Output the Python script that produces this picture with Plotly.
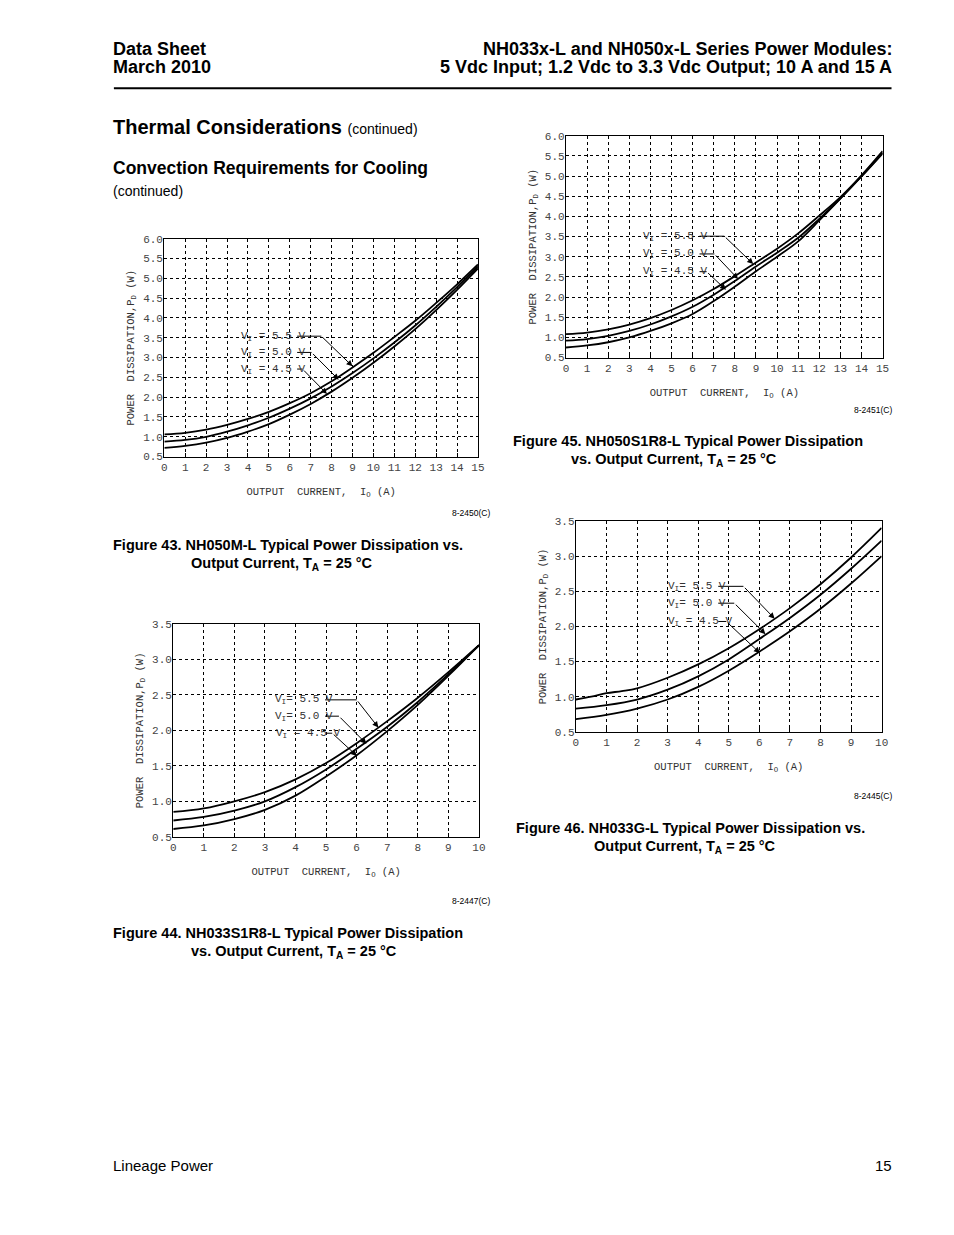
import plotly.graph_objects as go

# page size and the default 8 px body margin of the browser
PAGE_W, PAGE_H, BODY_M = 954, 1235, 8
W, H = PAGE_W - 2 * BODY_M, PAGE_H - 2 * BODY_M

# ---------------- data ----------------
# Figure 43. NH050M-L  (x: output current 0..15 A)
f43_x = list(range(16))
f43_v55 = [1.06, 1.10, 1.18, 1.30, 1.45, 1.63, 1.85, 2.10, 2.40, 2.75, 3.12, 3.52, 3.93, 4.38, 4.85, 5.35]
f43_v50 = [0.88, 0.92, 1.00, 1.13, 1.29, 1.48, 1.71, 1.97, 2.27, 2.61, 2.98, 3.38, 3.81, 4.28, 4.78, 5.30]
f43_v45 = [0.72, 0.77, 0.85, 0.97, 1.13, 1.32, 1.56, 1.83, 2.14, 2.49, 2.87, 3.28, 3.72, 4.20, 4.71, 5.25]

# Figure 45. NH050S1R8-L (x: 0..15 A)
f45_x = list(range(16))
f45_v55 = [1.08, 1.12, 1.20, 1.32, 1.48, 1.68, 1.92, 2.20, 2.52, 2.86, 3.20, 3.58, 4.02, 4.48, 5.02, 5.62]
f45_v50 = [0.92, 0.96, 1.04, 1.16, 1.32, 1.52, 1.76, 2.06, 2.40, 2.76, 3.10, 3.47, 3.94, 4.45, 5.00, 5.58]
f45_v45 = [0.75, 0.80, 0.88, 1.00, 1.16, 1.35, 1.58, 1.90, 2.26, 2.64, 3.00, 3.38, 3.90, 4.44, 4.99, 5.56]

# Figure 44. NH033S1R8-L (x: 0..10 A)
f44_x = list(range(11))
f44_v55 = [0.85, 0.90, 1.00, 1.13, 1.31, 1.54, 1.82, 2.13, 2.46, 2.82, 3.20]
f44_v50 = [0.73, 0.78, 0.87, 1.00, 1.20, 1.45, 1.74, 2.05, 2.40, 2.79, 3.20]
f44_v45 = [0.61, 0.66, 0.75, 0.88, 1.08, 1.35, 1.65, 1.99, 2.36, 2.77, 3.20]

# Figure 46. NH033G-L (x: 0..10 A)
f46_x55 = [0, 0.5, 1, 1.5, 2, 3, 4, 5, 6, 7, 8, 9, 10]
f46_v55 = [0.96, 1.00, 1.05, 1.08, 1.12, 1.27, 1.46, 1.69, 1.96, 2.26, 2.60, 2.98, 3.40]
f46_x = list(range(11))
f46_v50 = [0.83, 0.88, 0.96, 1.10, 1.29, 1.53, 1.82, 2.12, 2.45, 2.82, 3.22]
f46_v45 = [0.68, 0.74, 0.83, 0.96, 1.14, 1.37, 1.64, 1.93, 2.25, 2.61, 3.00]

vin_labels = ["5.5", "5.0", "4.5"]

MONO = "Liberation Mono, Courier New, monospace"
SANS = "Liberation Sans, Arial, Helvetica, sans-serif"

fig = go.Figure()


def px(x):
    return (x - BODY_M) / W


def py(y):
    return 1 - (y - BODY_M) / H


charts = [
    dict(ax="", box=(163, 480, 236, 456), xr=[0, 15], yr=[0.5, 6.0],
         series=[(f43_x, f43_v55), (f43_x, f43_v50), (f43_x, f43_v45)],
         texts=["V<sub>I</sub> = 5.5 V", "V<sub>I</sub> = 5.0 V", "V<sub>I</sub> = 4.5 V"],
         labels=[(3.56, 3.54, 7.51, 9.0, 2.78), (3.56, 3.13, 7.04, 8.34, 2.44), (3.56, 2.71, 6.61, 7.78, 2.08)],
         vstart=59),
    dict(ax="2", box=(569, 889, 132, 356), xr=[0, 15], yr=[0.5, 6.0],
         series=[(f45_x, f45_v55), (f45_x, f45_v50), (f45_x, f45_v45)],
         texts=["V<sub>I</sub> = 5.5 V", "V<sub>I</sub> = 5.0 V", "V<sub>I</sub> = 4.5 V"],
         labels=[(3.56, 3.51, 7.5, 8.87, 2.82), (3.56, 3.07, 7.03, 8.15, 2.45), (3.56, 2.63, 6.66, 7.58, 2.18)],
         vstart=59),
    dict(ax="3", box=(172, 481, 625, 840), xr=[0, 10], yr=[0.5, 3.5],
         series=[(f44_x, f44_v55), (f44_x, f44_v50), (f44_x, f44_v45)],
         texts=["V<sub>I</sub>= 5.5 V", "V<sub>I</sub>= 5.0 V", "V<sub>I</sub> = 4.5 V"],
         labels=[(3.25, 2.43, 6.0, 6.71, 2.04), (3.25, 2.20, 5.42, 6.32, 1.81), (3.28, 1.96, 5.2, 6.01, 1.64)],
         vstart=53),
    dict(ax="4", box=(579, 888, 521, 734), xr=[0, 10], yr=[0.5, 3.5],
         series=[(f46_x55, f46_v55), (f46_x, f46_v50), (f46_x, f46_v45)],
         texts=["V<sub>I</sub>= 5.5 V", "V<sub>I</sub>= 5.0 V", "V<sub>I</sub> = 4.5 V"],
         labels=[(2.94, 2.57, 5.48, 6.5, 2.11), (2.94, 2.33, 5.18, 6.2, 1.89), (2.94, 2.07, 4.92, 6.02, 1.62)],
         vstart=53),
]

annotations = []
shapes = []

for c in charts:
    s = c["ax"]
    xref, yref = "x" + s, "y" + s
    l, r, t, b = c["box"]
    for (xs, ys), v in zip(c["series"], vin_labels):
        fig.add_trace(go.Scatter(
            x=xs, y=ys, mode="lines", name="VI = " + v + " V", showlegend=False,
            line=dict(color="black", width=1.8, shape="spline", smoothing=1.0),
            xaxis=xref, yaxis=yref, hoverinfo="skip"))
    xscale = (r - l) / (c["xr"][1] - c["xr"][0])
    axis_common = dict(showgrid=True, gridcolor="black", griddash="dot", gridwidth=1,
                       showline=True, linecolor="black", linewidth=1.2, mirror=True,
                       zeroline=False, tickfont=dict(family=MONO, size=11, color="#444"))
    fig.layout["xaxis" + s] = dict(
        domain=[px(l), px(r)], range=c["xr"], dtick=1, tick0=0, anchor=yref,
        ticks="inside", ticklen=4, tickcolor="black",
        title=dict(text="OUTPUT  CURRENT,  I<sub>O</sub> (A)", font=dict(family=MONO, size=10.5, color="#333"),
                   standoff=14),
        **axis_common)
    fig.layout["yaxis" + s] = dict(
        domain=[py(b), py(t)], range=c["yr"], dtick=0.5, tick0=0.5, tickformat=".1f", anchor=xref,
        ticks="", ticklabelstandoff=-2,
        title=dict(text="POWER  DISSIPATION,P<sub>D</sub> (W)", font=dict(family=MONO, size=10.5, color="#333"),
                   standoff=6),
        **axis_common)
    for txt, (tx, ly, cx, tipx, tipy) in zip(c["texts"], c["labels"]):
        annotations.append(dict(x=tx, y=ly, xref=xref, yref=yref, text=txt, showarrow=False,
                                xanchor="left", yanchor="middle",
                                font=dict(family=MONO, size=11, color="#333")))
        shapes.append(dict(type="line", xref=xref, yref=yref, x0=tx + c["vstart"] / xscale, y0=ly,
                           x1=cx, y1=ly, line=dict(color="black", width=1)))
        annotations.append(dict(x=tipx, y=tipy, xref=xref, yref=yref, ax=cx, ay=ly,
                                axref=xref, ayref=yref, text="", showarrow=True,
                                arrowhead=2, arrowsize=1.2, arrowwidth=1, arrowcolor="black"))

# ---------------- page text ----------------
def txt(x, y, text, size, bold=False, anchor="left", color="black"):
    t = "<b>" + text + "</b>" if bold else text
    annotations.append(dict(x=px(x), y=py(y), xref="paper", yref="paper", text=t, showarrow=False,
                            xanchor=anchor, yanchor="middle", borderpad=0,
                            font=dict(family=SANS, size=size, color=color)))

txt(110, 44, "Data Sheet", 18, True)
txt(110, 63, "March 2010", 18, True)
txt(900, 44, "NH033x-L and NH050x-L Series Power Modules:", 18, True, "right")
txt(900, 63, "5 Vdc Input; 1.2 Vdc to 3.3 Vdc Output; 10 A and 15 A", 18, True, "right")
shapes.append(dict(type="line", xref="paper", yref="paper", x0=px(112), x1=px(898), y0=py(84), y1=py(84),
                   line=dict(color="black", width=2)))

txt(110, 123, "Thermal Considerations <span style='font-weight:normal;font-size:14px'>(continued)</span>", 20, True)
txt(110, 165, "Convection Requirements for Cooling", 17.5, True)
txt(110, 188, "(continued)", 14)

txt(110, 545, "Figure 43. NH050M-L Typical Power Dissipation vs.", 14.5, True)
txt(189, 564, "Output Current, T<sub>A</sub> = 25 °C", 14.5, True)
txt(493, 513, "8-2450(C)", 8.5, False, "right")

txt(514, 440, "Figure 45. NH050S1R8-L Typical Power Dissipation", 14.5, True)
txt(573, 459, "vs. Output Current, T<sub>A</sub> = 25 °C", 14.5, True)
txt(900, 409, "8-2451(C)", 8.5, False, "right")

txt(110, 937, "Figure 44. NH033S1R8-L Typical Power Dissipation", 14.5, True)
txt(189, 956, "vs. Output Current, T<sub>A</sub> = 25 °C", 14.5, True)
txt(493, 905, "8-2447(C)", 8.5, False, "right")

txt(517, 831, "Figure 46. NH033G-L Typical Power Dissipation vs.", 14.5, True)
txt(596, 850, "Output Current, T<sub>A</sub> = 25 °C", 14.5, True)
txt(900, 799, "8-2445(C)", 8.5, False, "right")

txt(110, 1172, "Lineage Power", 15)
txt(900, 1172, "15", 15, False, "right")

fig.update_layout(width=W, height=H, autosize=False, margin=dict(l=0, r=0, t=0, b=0),
                  paper_bgcolor="white", plot_bgcolor="white",
                  annotations=annotations, shapes=shapes, showlegend=False)

fig.write_html("out.html", config={"displayModeBar": False, "staticPlot": True})
